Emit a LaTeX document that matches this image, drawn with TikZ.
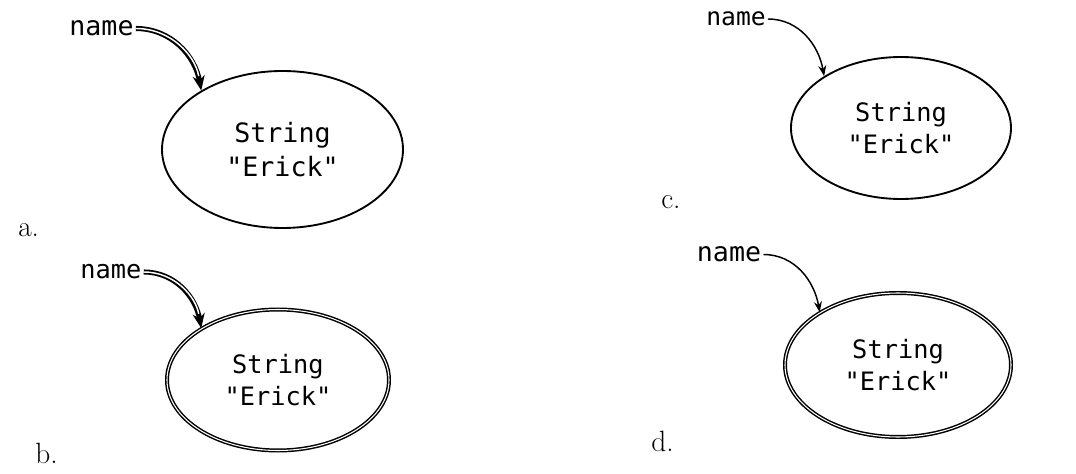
\documentclass[tikz,border=0pt]{standalone}
\usepackage{fontspec}
\setmonofont{DejaVu Sans Mono}
\usetikzlibrary{shapes.geometric,arrows.meta}

\begin{document}
\begin{tikzpicture}[x=0.75pt,y=0.75pt,yscale=-1,
  obj/.style={ellipse,draw,line width=1.4pt,inner sep=0pt,align=center,font=\ttfamily\fontsize{19}{24}\selectfont},
  dblobj/.style={obj,line width=1.1pt,double=white,double distance=0.8pt},
  var/.style={inner sep=1.5pt,font=\ttfamily\fontsize{19}{24}\selectfont},
  lbl/.style={anchor=base west,inner sep=0pt,font=\fontsize{22}{26}\selectfont},
  ref/.style={line width=1.1pt,-{Stealth[length=8pt,width=6pt]}},
  dblref/.style={line width=3.8pt,-{Stealth[length=11pt,width=9pt]},postaction={draw=white,line width=1.1pt,-,shorten >=11pt}}
]
\useasboundingbox (0,0) rectangle (1076,474);

% a.
\node[obj,minimum width=180.75pt,minimum height=117.75pt,font=\ttfamily\fontsize{20}{26}\selectfont] (objA) at (282.5,149.5) {String\\"Erick"};
\node[var,font=\ttfamily\fontsize{20}{24}\selectfont] (nameA) at (101.5,28.5) {name};
\draw[dblref] (nameA.east) to[out=0,in=-100] (objA.144);
\node[lbl] (labA) at (18,237) {a.};

% b.
\node[dblobj,minimum width=166.5pt,minimum height=105.75pt] (objB) at (278,380) {String\\"Erick"};
\node[var] (nameB) at (111,272) {name};
\draw[dblref] (nameB.east) to[out=0,in=-100] (objB.146);
\node[lbl] (labB) at (35,463) {b.};

% c.
\node[obj,minimum width=165pt,minimum height=106.5pt] (objC) at (901,128) {String\\"Erick"};
\node[var,font=\ttfamily\fontsize{18.5}{24}\selectfont] (nameC) at (736,19) {name};
\draw[ref] (nameC.east) to[out=0,in=-100] (objC.146);
\node[lbl] (labC) at (661,209) {c.};

% d.
\node[dblobj,minimum width=169.5pt,minimum height=108pt] (objD) at (898,365) {String\\"Erick"};
\node[var,font=\ttfamily\fontsize{20}{24}\selectfont] (nameD) at (729,254.5) {name};
\draw[ref] (nameD.east) to[out=0,in=-100] (objD.146);
\node[lbl] (labD) at (651,451) {d.};

\end{tikzpicture}
\end{document}
